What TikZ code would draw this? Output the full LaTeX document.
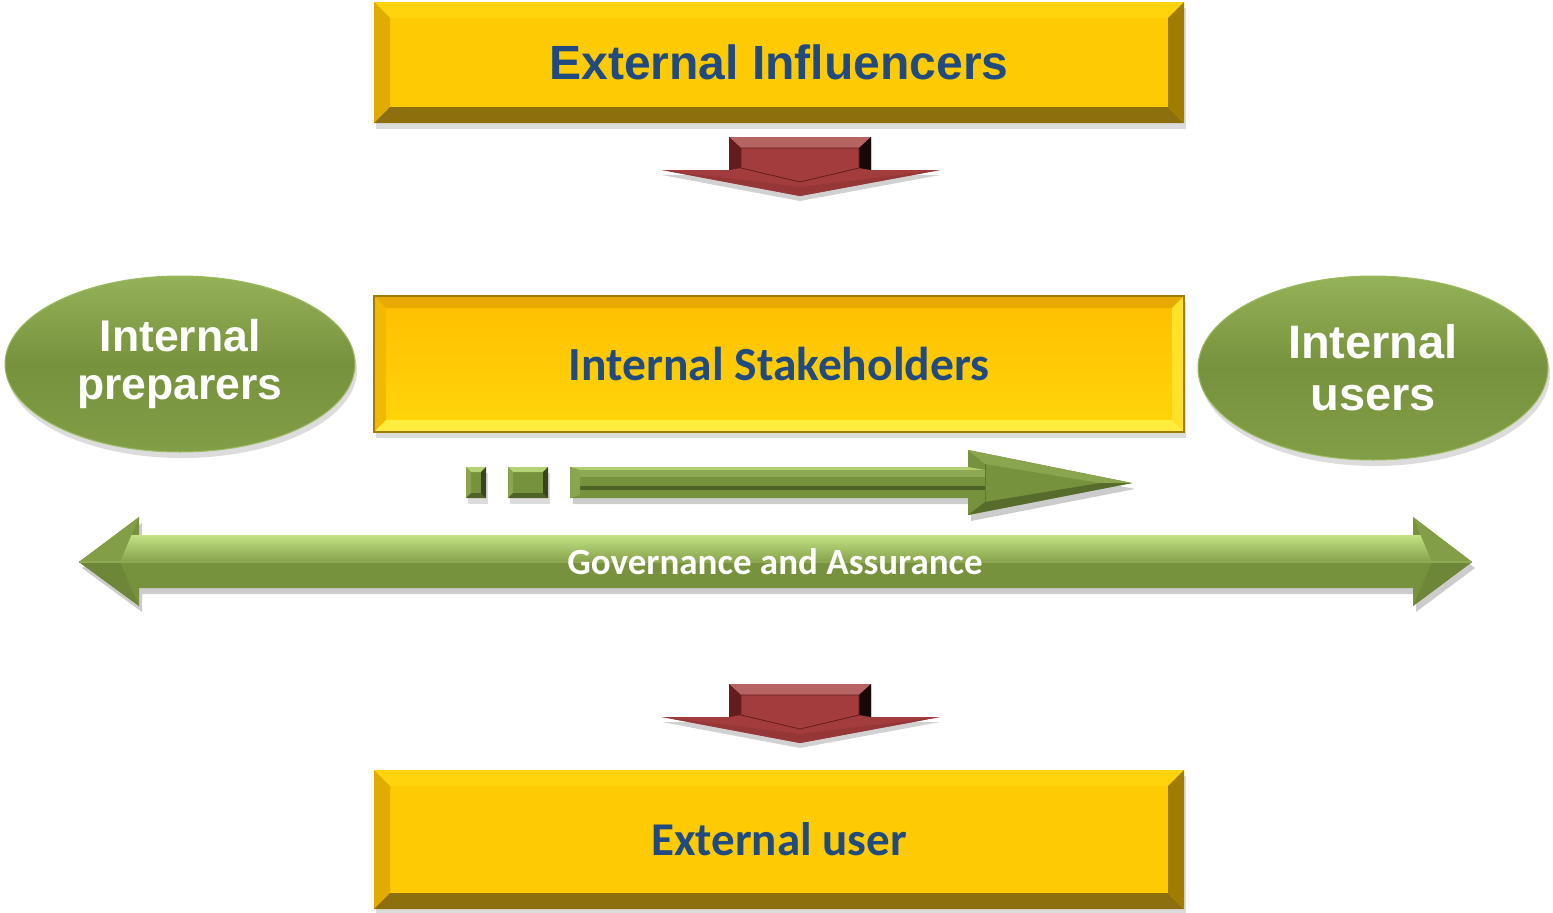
\documentclass[tikz,border=0pt]{standalone}
\usepackage{fontspec}
\setmainfont{Liberation Sans}
\newfontfamily\calibri{Carlito}
\usetikzlibrary{shapes.geometric,shadows}

\definecolor{gold}{RGB}{253,202,3}
\definecolor{goldtop}{RGB}{255,212,12}
\definecolor{goldleft}{RGB}{226,171,0}
\definecolor{goldbot}{RGB}{142,111,14}
\definecolor{goldright}{RGB}{160,124,0}
\definecolor{sunface}{RGB}{255,190,0}
\definecolor{sunfacelow}{RGB}{255,214,10}
\definecolor{suntop}{RGB}{232,170,0}
\definecolor{sunleft}{RGB}{245,184,0}
\definecolor{sunbot}{RGB}{255,236,60}
\definecolor{sunright}{RGB}{255,226,40}
\definecolor{navy}{RGB}{33,74,126}
\definecolor{leaf}{RGB}{118,146,60}
\definecolor{leaflight}{RGB}{195,226,132}
\definecolor{leafdark}{RGB}{79,98,40}
\definecolor{brick}{RGB}{163,60,60}
\definecolor{brickdark}{RGB}{100,28,28}

\begin{document}
\begin{tikzpicture}[x=1pt,y=-1pt,
	bevel/.style n args={5}{path picture={
		\coordinate (nw) at (path picture bounding box.north west);
		\coordinate (ne) at (path picture bounding box.north east);
		\coordinate (sw) at (path picture bounding box.south west);
		\coordinate (se) at (path picture bounding box.south east);
		\fill[#2] (nw) -- (ne) -- ([shift={(-#1,#1)}]ne) -- ([shift={(#1,#1)}]nw) -- cycle;
		\fill[#3] (nw) -- ([shift={(#1,#1)}]nw) -- ([shift={(#1,-#1)}]sw) -- (sw) -- cycle;
		\fill[#4] (sw) -- (se) -- ([shift={(-#1,-#1)}]se) -- ([shift={(#1,-#1)}]sw) -- cycle;
		\fill[#5] (ne) -- (se) -- ([shift={(-#1,-#1)}]se) -- ([shift={(-#1,#1)}]ne) -- cycle;
	}},
	softshadow/.style={drop shadow={opacity=0.28, shadow xshift=2pt, shadow yshift=-6pt}},
	goldbox/.style={rectangle, minimum width=810pt, inner sep=0pt, fill=gold, text=navy, softshadow},
	hardbevel/.style={bevel={16}{goldtop}{goldleft}{goldbot}{goldright}},
	softbevel/.style={top color=sunface, bottom color=sunfacelow,
		draw=goldright, line width=1.5pt,
		bevel={12}{suntop}{sunleft}{sunbot}{sunright}},
	greenoval/.style={ellipse, minimum width=350pt, inner sep=0pt, align=center, text=white,
		top color=leaflight!40!leaf, bottom color=leaf!85!leaflight, middle color=leaf,
		draw=leaflight!50!leaf, line width=1pt, softshadow},
	greenblock/.style={rectangle, minimum height=31pt, inner sep=0pt, fill=leaf,
		bevel={5}{leaflight!80!leaf}{leaf!75!leaflight}{leafdark}{leafdark!70!black}, softshadow},
	redarrow/.pic={
		% shadow
		\fill[black, opacity=0.18] (-71,5) -- (71,5) -- (71,38) -- (140,38) -- (0,64) -- (-138,38) -- (-71,38) -- cycle;
		\fill[brick] (-71,0) -- (71,0) -- (71,33) -- (140,33) -- (0,59) -- (-138,33) -- (-71,33) -- cycle;
		\fill[brick!80!white] (-71,0) -- (71,0) -- (59,11) -- (-59,11) -- cycle;
		\fill[brickdark] (-71,0) -- (-59,11) -- (-59,31) -- (-71,33) -- cycle;
		\fill[black!85!brick] (71,0) -- (59,11) -- (59,31) -- (71,33) -- cycle;
		\fill[brick!92!black] (-138,33) -- (0,59) -- (140,33) -- (0,50) -- cycle;
		\draw[brickdark, line width=0.8pt, fill=brick] (-59,11) -- (59,11) -- (59,31) -- (0,45) -- (-59,31) -- cycle;
	}]
\useasboundingbox (0,0) rectangle (1553,913);

% boxes
\node[goldbox, hardbevel, minimum height=121pt, font=\fontsize{48}{52}\selectfont\bfseries] (extinf) at (779,62.5) {External Influencers};
\node[goldbox, softbevel, minimum height=136pt, font=\calibri\bfseries\fontsize{47.5}{50}\selectfont] (intstake) at (779,364) {Internal Stakeholders};
\node[goldbox, hardbevel, minimum height=139pt, font=\calibri\bfseries\fontsize{47}{50}\selectfont] (extuser) at (779,839.5) {External user};

% ovals
\node[greenoval, minimum height=176pt, font=\fontsize{44.5}{48}\selectfont\bfseries] (intprep) at (180,364) {Internal\\preparers};
\node[greenoval, minimum height=184pt, font=\fontsize{47}{52}\selectfont\bfseries] (intusers) at (1373,368) {Internal\\users};

% red arrows
\pic at (800,137) {redarrow};
\pic at (800,684) {redarrow};

% small green blocks and arrow
\node[greenblock, minimum width=20pt] (tick) at (476,482.5) {};
\node[greenblock, minimum width=40pt] (block) at (528,482.5) {};
\fill[black, opacity=0.2] (573,473) -- (971,473) -- (971,456) -- (1135,489) -- (971,521) -- (971,504) -- (573,504) -- cycle;
\fill[leaf] (570,467) -- (968,467) -- (968,450) -- (1132,483) -- (968,515) -- (968,498) -- (570,498) -- cycle;
\fill[leaflight!75!leaf] (570,467) -- (968,467) -- (985,470) -- (580,470) -- cycle;
\fill[leaf!70!leaflight] (580,470) rectangle (985,477);
\fill[leafdark] (580,486) rectangle (985,490);
\fill[leaf!75!leaflight] (570,467) -- (580,470) -- (580,495) -- (570,498) -- cycle;
\fill[leaf!75!leaflight] (968,450) -- (1132,483) -- (1100,483) -- (985,464) -- cycle;
\fill[leafdark!80!leaf] (968,515) -- (1132,483) -- (1100,483) -- (985,502) -- cycle;
\draw[leafdark!60!leaf, line width=0.8pt] (985,464) -- (985,502);

% governance arrow
\fill[black, opacity=0.2] (82,568) -- (142,523) -- (142,541) -- (1416,541) -- (1416,523) -- (1475,568) -- (1416,612) -- (1416,594) -- (142,594) -- (142,612) -- cycle;
\fill[leaf] (79,562) -- (139,517) -- (139,535) -- (1413,535) -- (1413,517) -- (1472,562) -- (1413,606) -- (1413,588) -- (139,588) -- (139,606) -- cycle;
\begin{scope}
	\clip (79,562) -- (139,517) -- (139,535) -- (1413,535) -- (1413,517) -- (1472,562) -- (1413,606) -- (1413,588) -- (139,588) -- (139,606) -- cycle;
	\shade[top color=leaflight, bottom color=leaf!80!leaflight] (70,535) rectangle (1480,562);
	\fill[leaf!85!leaflight] (70,517) -- (139,517) -- (120,562) -- (70,562) -- cycle;
	\fill[leaf!85!leaflight] (1480,517) -- (1413,517) -- (1432,562) -- (1480,562) -- cycle;
	\fill[leaf!92!black] (70,606) -- (139,606) -- (120,562) -- (70,562) -- cycle;
	\fill[leaf!92!black] (1480,606) -- (1413,606) -- (1432,562) -- (1480,562) -- cycle;
	\draw[leaf!70!leaflight, line width=1.2pt] (79,562) -- (1472,562);
\end{scope}
\node[text=white, font=\calibri\bfseries\fontsize{37}{40}\selectfont] (govlabel) at (775,562) {Governance and Assurance};
\end{tikzpicture}
\end{document}
